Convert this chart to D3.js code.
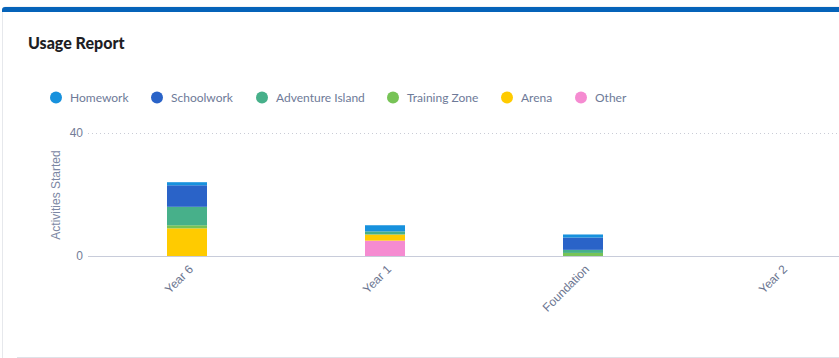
<!DOCTYPE html>
<html>
<head>
<meta charset="utf-8">
<script src="https://cdn.jsdelivr.net/npm/d3@7"></script>
<style>
  html, body { margin: 0; padding: 0; background: #ffffff; }
  svg { display: block; font-family: Lato, "Open Sans", sans-serif; }
</style>
</head>
<body>
<svg id="chart" width="839" height="358"></svg>
<script>
const categories = ["Year 6", "Year 1", "Foundation", "Year 2"];
const seriesNames = ["Homework", "Schoolwork", "Adventure Island", "Training Zone", "Arena", "Other"];
const seriesColors = ["#1791dd", "#2a63c8", "#47b08a", "#77c356", "#ffcb00", "#f58bd1"];
const homework = [1, 2, 1, 0];
const schoolwork = [7, 0, 4, 0];
const adventureIsland = [6, 1, 1, 0];
const trainingZone = [1, 0, 1, 0];
const arena = [9, 2, 0, 0];
const other = [0, 5, 0, 0];
const yTicks = [0, 40];
const yTitle = "Activities Started";
const chartTitle = "Usage Report";

const svg = d3.select("#chart");
const W = 839, H = 358;
const axisFont = "'Liberation Sans', Arial, sans-serif";

// card
svg.append("rect").attr("x", 2.5).attr("y", 7).attr("width", W).attr("height", H)
  .attr("rx", 3).attr("fill", "#fff").attr("stroke", "#e6e8ec");
svg.append("path").attr("d", `M2,${12} L2,10 Q2,7 5,7 L${W},7 L${W},12 Z`).attr("fill", "#0563b9");
svg.append("line").attr("x1", 17).attr("x2", W).attr("y1", 357.5).attr("y2", 357.5)
  .attr("stroke", "#dfe2e8");

svg.append("text").attr("x", 28).attr("y", 49).text(chartTitle)
  .attr("font-size", 16).attr("font-weight", 900).attr("fill", "#1e1e24");

// legend
const legendX = [56, 157, 262, 393, 507, 581];
const lg = svg.append("g");
seriesNames.forEach((n, i) => {
  lg.append("circle").attr("cx", legendX[i]).attr("cy", 97.5).attr("r", 6).attr("fill", seriesColors[i]);
  lg.append("text").attr("x", legendX[i] + 14).attr("y", 101.5).text(n)
    .attr("font-size", 12).attr("fill", "#6e7a98");
});

// scales
const x = d3.scaleBand().domain(categories).range([88, 880]).padding(0);
const y = d3.scaleLinear().domain([0, 40]).range([256, 133]);

// grid
svg.append("line").attr("x1", 88).attr("x2", W).attr("y1", y(40) + 0.5).attr("y2", y(40) + 0.5)
  .attr("stroke", "#c9ccd6").attr("stroke-dasharray", "1,3");

// stacked data
const data = categories.map((c, i) => ({
  cat: c,
  "Homework": homework[i], "Schoolwork": schoolwork[i], "Adventure Island": adventureIsland[i],
  "Training Zone": trainingZone[i], "Arena": arena[i], "Other": other[i]
}));
const stackKeys = seriesNames.slice().reverse();
const stack = d3.stack().keys(stackKeys)(data);
const barW = 40;
stack.forEach(layer => {
  const color = seriesColors[seriesNames.indexOf(layer.key)];
  svg.append("g").selectAll("rect").data(layer).join("rect")
    .attr("x", d => x(d.data.cat) + x.bandwidth() / 2 - barW / 2)
    .attr("y", d => y(d[1]))
    .attr("width", barW)
    .attr("height", d => Math.max(0, y(d[0]) - y(d[1])))
    .attr("fill", color);
});

// baseline
svg.append("line").attr("x1", 88).attr("x2", W).attr("y1", y(0) + 0.5).attr("y2", y(0) + 0.5)
  .attr("stroke", "#c8ccda").attr("stroke-width", 1);

// y tick labels
const yAxis = d3.axisLeft(y).tickValues(yTicks).tickSize(0).tickPadding(0);
const ya = svg.append("g").attr("transform", "translate(83,0)").call(yAxis);
ya.select(".domain").remove();
ya.selectAll("text").attr("font-size", 12).attr("fill", "#737d97").attr("font-family", axisFont);

svg.append("text").attr("transform", `translate(60,195) rotate(-90)`).attr("text-anchor", "middle")
  .text(yTitle).attr("font-size", 12).attr("fill", "#7c87a3").attr("font-family", axisFont);

// x labels
const xAxis = d3.axisBottom(x).tickSize(0).tickPadding(0);
const xa = svg.append("g").attr("transform", "translate(0,256)").call(xAxis);
xa.select(".domain").remove();
xa.selectAll("text")
  .attr("text-anchor", "end").attr("dy", null).attr("y", 0)
  .attr("transform", "translate(7,14) rotate(-45)")
  .attr("font-size", 12).attr("fill", "#6b7590").attr("font-family", axisFont);
</script>
</body>
</html>
